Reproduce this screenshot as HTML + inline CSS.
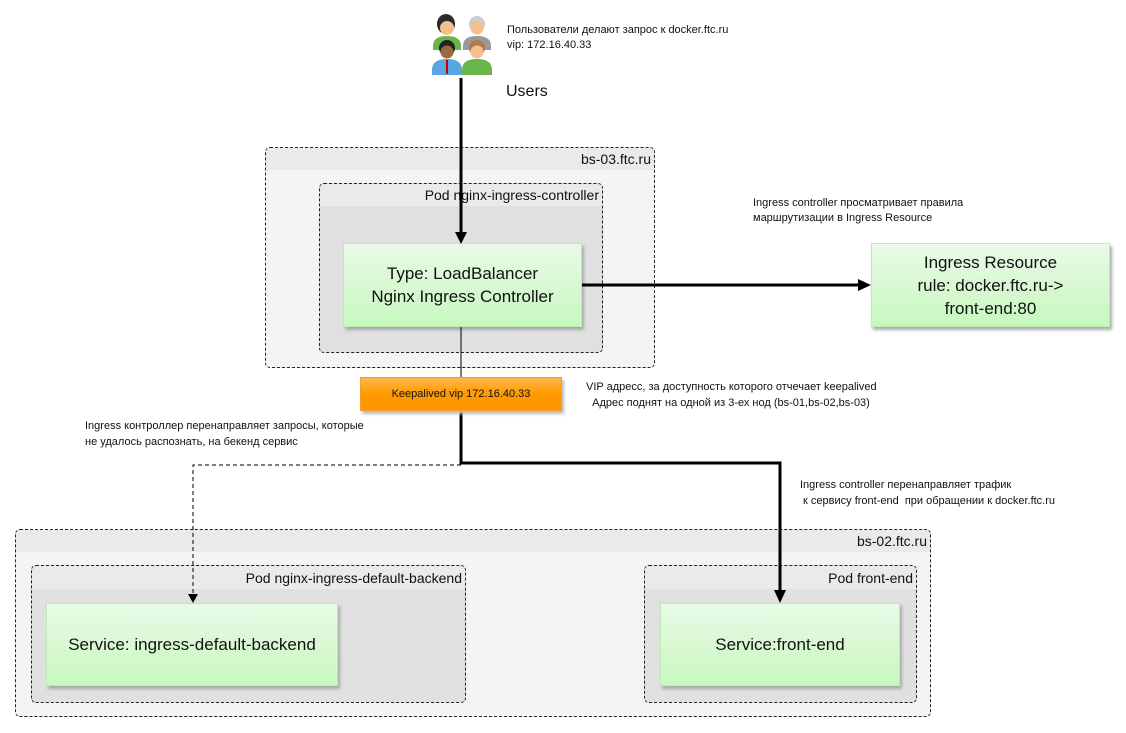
<!DOCTYPE html>
<html><head><meta charset="utf-8"><style>
body{margin:0;width:1126px;height:733px;background:#fff;position:relative;overflow:hidden;font-family:"Liberation Sans",sans-serif;color:#111}
.a{position:absolute;box-sizing:border-box}
.grp{border:1px dashed #222;border-radius:5px}
.lbl{position:absolute;right:3px;font-size:14px;white-space:nowrap}
.g{background:linear-gradient(#e9fbe7,#d9f8d3 50%,#c6f9be);border:1px solid #b9eeb0;box-shadow:2px 3px 3px #aaa;display:flex;align-items:center;justify-content:center;text-align:center;font-size:17px;line-height:23px}
.t{position:absolute;font-size:11px;line-height:15px;white-space:nowrap}
</style></head><body>
<div class="a grp" style="left:265px;top:147px;width:390px;height:221px;background:linear-gradient(#eaeaea 0,#eaeaea 22px,#f4f4f4 22px)"><span class="lbl" style="top:3px">bs-03.ftc.ru</span></div>
<div class="a grp" style="left:319px;top:183px;width:284px;height:170px;background:linear-gradient(#eaeaea 0,#eaeaea 22px,#e0e0e0 22px)"><span class="lbl" style="top:3px">Pod nginx-ingress-controller</span></div>
<div class="a g" style="left:343px;top:243px;width:239px;height:84px">Type: LoadBalancer<br>Nginx Ingress Controller</div>
<div class="a g" style="left:871px;top:243px;width:239px;height:84px">Ingress Resource<br>rule: docker.ftc.ru-&gt;<br>front-end:80</div>
<div class="a grp" style="left:15px;top:529px;width:916px;height:188px;background:linear-gradient(#eaeaea 0,#eaeaea 22px,#f4f4f4 22px)"><span class="lbl" style="top:3px">bs-02.ftc.ru</span></div>
<div class="a grp" style="left:31px;top:565px;width:435px;height:138px;background:linear-gradient(#eaeaea 0,#eaeaea 23px,#e0e0e0 23px)"><span class="lbl" style="top:4px">Pod nginx-ingress-default-backend</span></div>
<div class="a grp" style="left:644px;top:565px;width:273px;height:138px;background:linear-gradient(#eaeaea 0,#eaeaea 23px,#e0e0e0 23px)"><span class="lbl" style="top:4px">Pod front-end</span></div>
<div class="a g" style="left:46px;top:603px;width:292px;height:83px">Service: ingress-default-backend</div>
<div class="a g" style="left:660px;top:603px;width:240px;height:83px">Service:front-end</div>
<svg class="a" style="left:0;top:0" width="1126" height="733">
<line x1="461" y1="78" x2="461" y2="236" stroke="#000" stroke-width="3"/>
<polygon points="455,232 467,232 461,244" fill="#000"/>
<line x1="461" y1="327" x2="461" y2="377" stroke="#000" stroke-width="1"/>
<line x1="582" y1="285" x2="862" y2="285" stroke="#000" stroke-width="3"/>
<polygon points="858,279 871,285 858,291" fill="#000"/>
<polyline points="461,411 461,463 780,463 780,594" fill="none" stroke="#000" stroke-width="3"/>
<polygon points="774,590 786,590 780,603" fill="#000"/>
<polyline points="461,465 193,465 193,596" fill="none" stroke="#000" stroke-width="1" stroke-dasharray="4,3"/>
<polygon points="188,594 198,594 193,603" fill="#000"/>
<g>
<path d="M433,50 v-4 q0,-10 14,-10 q14,0 14,10 v4z" fill="#6ab54a"/>
<path d="M463,50 v-4 q0,-10 14,-10 q14,0 14,10 v4z" fill="#999"/>
<ellipse cx="446" cy="24" rx="9" ry="10" fill="#2a2a2a"/><circle cx="447" cy="28" r="7" fill="#f5c08e"/>
<circle cx="477" cy="24" r="8" fill="#ccc"/><circle cx="477" cy="28" r="6.5" fill="#f5c08e"/>
<path d="M432,75 v-5 q0,-11 15,-11 q15,0 15,11 v5z" fill="#5aa6e0"/><rect x="446" y="60" width="2" height="14" fill="#c00"/>
<path d="M462,75 v-5 q0,-11 15,-11 q15,0 15,11 v5z" fill="#6ab54a"/>
<circle cx="447" cy="48" r="8" fill="#222"/><circle cx="447" cy="52" r="6.5" fill="#9a6a3e"/>
<circle cx="477" cy="48" r="8" fill="#b47a4a"/><circle cx="477" cy="52" r="6.5" fill="#f5c08e"/>
</g>
</svg>
<div class="a" style="left:360px;top:377px;width:202px;height:34px;background:linear-gradient(#ffb84d,#ff9a00 50%,#ff9400);border:1px solid #f0a030;box-shadow:2px 3px 3px #bbb;font-size:11px;display:flex;align-items:center;justify-content:center">Keepalived vip 172.16.40.33</div>
<div class="t" style="left:507px;top:23px">Пользователи делают запрос к docker.ftc.ru<br>vip: 172.16.40.33</div>
<div class="t" style="left:506px;top:83px;font-size:16px;line-height:18px">Users</div>
<div class="t" style="left:753px;top:196px">Ingress controller просматривает правила<br>маршрутизации в Ingress Resource</div>
<div class="t" style="left:586px;top:379px;line-height:16px">VIP адресс, за доступность которого отчечает keepalived<br>&nbsp;&nbsp;Адрес поднят на одной из 3-ех нод (bs-01,bs-02,bs-03)</div>
<div class="t" style="left:85px;top:418px;line-height:16px">Ingress контроллер перенаправляет запросы, которые<br>не удалось распознать, на бекенд сервис</div>
<div class="t" style="left:800px;top:477px;line-height:16px">Ingress controller перенаправляет трафик<br>&nbsp;к сервису front-end &nbsp;при обращении к docker.ftc.ru</div>
</body></html>
